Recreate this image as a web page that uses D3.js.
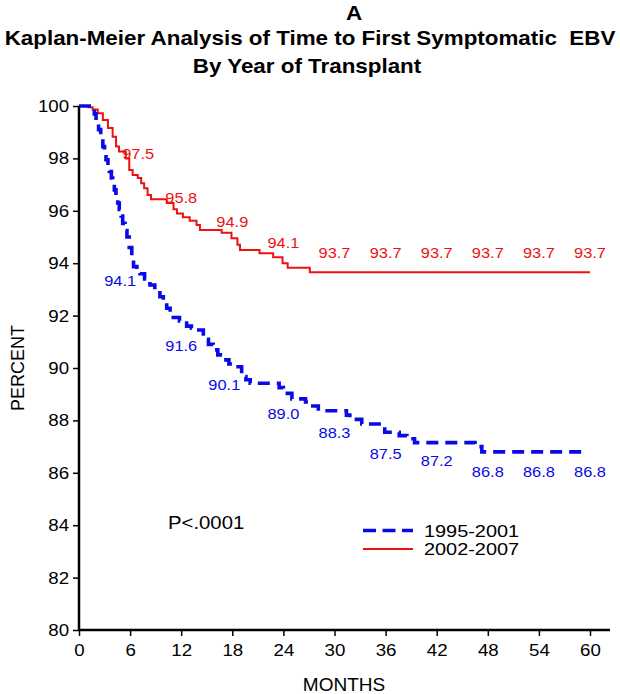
<!DOCTYPE html>
<html><head><meta charset="utf-8">
<script src="https://cdn.jsdelivr.net/npm/d3@7"></script>
<style>html,body{margin:0;padding:0;background:#fff;} svg{display:block;} text{white-space:pre;}</style>
</head><body>
<svg id="chart" width="620" height="694"></svg>
<script>
// ---- data ----
const monthTicks = [0, 6, 12, 18, 24, 30, 36, 42, 48, 54, 60];
const percentTicks = [80, 82, 84, 86, 88, 90, 92, 94, 96, 98, 100];
const seriesNames = ["1995-2001", "2002-2007"];

// 1995-2001 (blue dashed) step curve
const blueTimes = [0, 1.5, 1.8, 2.0, 2.3, 2.55, 2.8, 3.0, 3.17, 3.4, 3.56, 3.8, 3.96, 4.15, 4.34, 4.55, 4.73, 4.95, 5.13, 5.4, 5.63, 5.9, 6.2, 6.4, 6.8, 7.16, 7.7, 8.33, 8.9, 9.5, 9.9, 10.3, 10.7, 11.07, 11.8, 12.64, 13.2, 13.8, 14.6, 15.2, 15.76, 16.3, 16.94, 17.6, 18.3, 19.1, 19.6, 20.1, 23.5, 24.0, 25.0, 26.6, 27.1, 28.1, 31.4, 31.8, 33.2, 35.9, 37.6, 38.5, 39.4, 46.5, 47.3, 59.5];
const blueSurv  = [100, 99.9, 99.7, 99.45, 99.1, 98.75, 98.45, 98.2, 97.95, 97.7, 97.5, 97.25, 97.05, 96.8, 96.55, 96.3, 96.05, 95.8, 95.52, 95.25, 95.0, 94.6, 94.15, 93.87, 93.75, 93.6, 93.4, 93.17, 92.95, 92.72, 92.5, 92.28, 92.1, 91.93, 91.8, 91.6, 91.52, 91.45, 91.1, 90.9, 90.69, 90.5, 90.31, 90.15, 90.05, 89.67, 89.55, 89.42, 89.25, 89.03, 88.82, 88.7, 88.55, 88.37, 88.2, 88.04, 87.86, 87.55, 87.42, 87.3, 87.15, 87.0, 86.8, 86.8];

// 2002-2007 (red solid) step curve
const redTimes = [0, 1.1, 1.6, 2.2, 2.8, 3.4, 3.95, 4.35, 4.7, 5.5, 5.9, 6.3, 6.9, 7.3, 7.65, 8.05, 8.45, 10.3, 11.1, 11.5, 12.2, 13.0, 13.8, 14.2, 16.75, 17.9, 18.6, 18.9, 21.2, 22.8, 23.9, 24.5, 27.1, 60];
const redSurv  = [100, 99.95, 99.87, 99.72, 99.47, 99.16, 98.83, 98.45, 98.26, 98.0, 97.56, 97.37, 97.25, 97.05, 96.86, 96.6, 96.44, 96.3, 96.06, 95.9, 95.75, 95.62, 95.46, 95.27, 95.16, 94.95, 94.7, 94.5, 94.38, 94.23, 94.0, 93.83, 93.65, 93.65];

// annotated estimates at 6-month intervals
const labelMonths = [6, 12, 18, 24, 30, 36, 42, 48, 54, 60];
const blueLabels = [94.1, 91.6, 90.1, 89.0, 88.3, 87.5, 87.2, 86.8, 86.8, 86.8];
const redLabels  = [97.5, 95.8, 94.9, 94.1, 93.7, 93.7, 93.7, 93.7, 93.7, 93.7];

const titleLines = ["A", "Kaplan-Meier Analysis of Time to First Symptomatic  EBV", "By Year of Transplant"];
const pValueText = "P<.0001";

// ---- drawing ----
const FONT = "'Liberation Sans', Arial, Helvetica, sans-serif";
const BLUE = "#0a0ae6", RED = "#ee1111";
const svg = d3.select("#chart");
const x = d3.scaleLinear().domain([0, 60]).range([79, 590]);
const y = d3.scaleLinear().domain([80, 100]).range([630, 106]);

function text(g, px, py, str, o) {
  return g.append("text")
    .attr("transform", `translate(${px},${py}) scale(${o.sx || 1},1)`)
    .attr("text-anchor", o.anchor || "middle")
    .attr("font-family", FONT)
    .attr("font-size", o.size)
    .attr("font-weight", o.weight || "normal")
    .attr("fill", o.fill || "#000")
    .text(str);
}

// title
const titleX = [354, 310, 307], titleY = [20, 45, 73];
titleLines.forEach((t, i) => text(svg, titleX[i], titleY[i], t, {size: 20, weight: "bold", sx: 1.12}));

// axes
const gx = svg.append("g").attr("transform", `translate(0,${y(80)})`)
  .call(d3.axisBottom(x).tickValues(monthTicks).tickSize(6).tickSizeOuter(0).tickPadding(8));
const gy = svg.append("g").attr("transform", `translate(${x(0)},0)`)
  .call(d3.axisLeft(y).tickValues(percentTicks).tickSize(6).tickSizeOuter(0).tickPadding(3));
[gx, gy].forEach(g => {
  g.select(".domain").remove();
  g.selectAll(".tick line").attr("stroke", "#000").attr("stroke-width", 1.5);
  g.selectAll(".tick text").attr("font-family", FONT).attr("font-size", 17).attr("fill", "#000")
    .attr("transform", "scale(1.1,1)");
});
svg.append("line").attr("x1", x(0) - 1).attr("x2", x(60) + 20).attr("y1", y(80)).attr("y2", y(80))
  .attr("stroke", "#000").attr("stroke-width", 2.5);
svg.append("line").attr("x1", x(0)).attr("x2", x(0)).attr("y1", y(80) + 1).attr("y2", y(100))
  .attr("stroke", "#000").attr("stroke-width", 2.5);

text(svg, 344, 691, "MONTHS", {size: 19});
svg.append("text").attr("transform", `translate(24,${(y(80) + y(100)) / 2}) rotate(-90)`)
  .attr("text-anchor", "middle").attr("font-family", FONT).attr("font-size", 18).text("PERCENT");

// curves
const line = d3.line().x(d => x(d[0])).y(d => y(d[1])).curve(d3.curveStepAfter);
svg.append("path").datum(redTimes.map((t, i) => [t, redSurv[i]]))
  .attr("d", line).attr("fill", "none").attr("stroke", RED).attr("stroke-width", 2);
svg.append("path").datum(blueTimes.map((t, i) => [t, blueSurv[i]]))
  .attr("d", line).attr("fill", "none").attr("stroke", BLUE).attr("stroke-width", 3.6)
  .attr("stroke-dasharray", "12,7");

// value annotations (small nudges where the original shifted labels off the curve)
const redNudge = {6: 8}, blueNudge = {6: -10, 18: -8};
labelMonths.forEach((m, i) => {
  text(svg, x(m) + (redNudge[m] || 0), y(redLabels[i]) - 13, redLabels[i].toFixed(1), {size: 14.5, sx: 1.13, fill: RED});
  text(svg, x(m) + (blueNudge[m] || 0), y(blueLabels[i]) + 25, blueLabels[i].toFixed(1), {size: 14.5, sx: 1.13, fill: BLUE});
});

// p-value and legend
text(svg, 168, 529, pValueText, {size: 19, sx: 1.07, anchor: "start"});
const legendY = [530.5, 549];
svg.append("line").attr("x1", 363).attr("x2", 413).attr("y1", legendY[0]).attr("y2", legendY[0])
  .attr("stroke", BLUE).attr("stroke-width", 3.6).attr("stroke-dasharray", "13,6.5");
svg.append("line").attr("x1", 363).attr("x2", 413).attr("y1", legendY[1]).attr("y2", legendY[1])
  .attr("stroke", RED).attr("stroke-width", 2);
seriesNames.forEach((n, i) => text(svg, 424, legendY[i] + 6, n, {size: 17, sx: 1.17, anchor: "start"}));
</script>
</body></html>
